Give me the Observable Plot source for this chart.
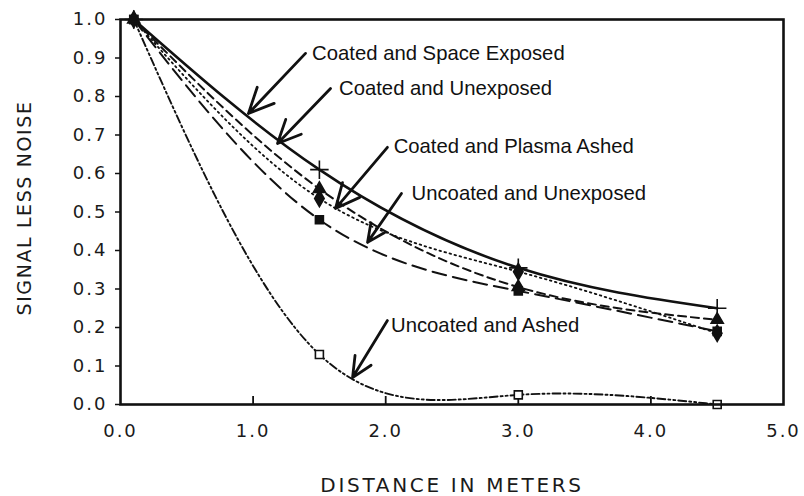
<!DOCTYPE html>
<html>
<head>
<meta charset="utf-8">
<script src="https://cdn.jsdelivr.net/npm/d3@7"></script>
<script src="https://cdn.jsdelivr.net/npm/@observablehq/plot@0.6"></script>
<style>
  html, body { margin: 0; padding: 0; background: #fff; }
  svg { display: block; }
</style>
</head>
<body>
<div id="chart"></div>
<script>
// ---- data ----
const distances = [0.1, 1.5, 3.0, 4.5];
const seriesNames = [
  "Coated and Space Exposed",
  "Coated and Unexposed",
  "Coated and Plasma Ashed",
  "Uncoated and Unexposed",
  "Uncoated and Ashed"
];
const spaceExposed      = [1.0, 0.61, 0.355, 0.25];
const coatedUnexposed   = [1.0, 0.56, 0.305, 0.22];
const plasmaAshed       = [1.0, 0.535, 0.345, 0.185];
const uncoatedUnexposed = [1.0, 0.48, 0.295, 0.19];
const uncoatedAshed     = [1.0, 0.13, 0.025, 0.0];
const seriesValues = [spaceExposed, coatedUnexposed, plasmaAshed, uncoatedUnexposed, uncoatedAshed];

const xTicks = [0, 1, 2, 3, 4, 5];
const xInnerTicks = [1, 2, 3, 4];
const yTicks = [0, 0.1, 0.2, 0.3, 0.4, 0.5, 0.6, 0.7, 0.8, 0.9, 1.0];
const xLabel = "DISTANCE IN METERS";
const yLabel = "SIGNAL LESS NOISE";

// annotation labels (text anchor and arrow, in data units)
const noteLabels = seriesNames;
const noteTextX = [1.445, 1.648, 2.06, 2.195, 2.04];
const noteTextY = [0.912, 0.821, 0.670, 0.548, 0.205];
const noteTailX = [1.395, 1.584, 2.013, 2.119, 2.013];
const noteTailY = [0.912, 0.821, 0.668, 0.548, 0.218];
const noteTipX  = [0.965, 1.184, 1.621, 1.863, 1.75];
const noteTipY  = [0.756, 0.678, 0.509, 0.421, 0.070];

// ---- build tables ----
const rows = [];
seriesNames.forEach((name, i) => {
  distances.forEach((d, j) => rows.push({series: name, x: d, y: seriesValues[i][j]}));
});
const notes = noteLabels.map((t, i) => ({
  text: t, tx: noteTextX[i], ty: noteTextY[i],
  x1: noteTailX[i], y1: noteTailY[i], x2: noteTipX[i], y2: noteTipY[i]
}));

const lineStyle = {
  "Coated and Space Exposed": {dash: null, w: 2.6},
  "Coated and Unexposed": {dash: "8,5", w: 2},
  "Coated and Plasma Ashed": {dash: "1.6,3.6", w: 1.8},
  "Uncoated and Unexposed": {dash: "14,7", w: 2},
  "Uncoated and Ashed": {dash: "8,3,2,3,2,3", w: 1.9}
};
const markStyle = {
  "Uncoated and Ashed": {symbol: "square", fill: "white", r: 4.5},
  "Coated and Space Exposed": {symbol: "plus", fill: "none", r: 6},
  "Coated and Unexposed": {symbol: "triangle", fill: "#111", r: 4.5},
  "Coated and Plasma Ashed": {symbol: "diamond", fill: "#111", r: 5},
  "Uncoated and Unexposed": {symbol: "square", fill: "#111", r: 4.5}
};
const drawOrder = ["Uncoated and Ashed", "Coated and Space Exposed", "Coated and Unexposed", "Coated and Plasma Ashed", "Uncoated and Unexposed"];

const marks = [];
for (const name of drawOrder) {
  const s = lineStyle[name];
  marks.push(Plot.line(rows.filter(r => r.series === name), {
    x: "x", y: "y", curve: "natural", stroke: "#111",
    strokeWidth: s.w, strokeDasharray: s.dash, clip: true
  }));
}
for (const name of drawOrder) {
  const m = markStyle[name];
  marks.push(Plot.dot(rows.filter(r => r.series === name), {
    x: "x", y: "y", symbol: () => m.symbol, r: m.r,
    fill: m.fill, stroke: "#111", strokeWidth: 1.6
  }));
}

const chart = Plot.plot({
  width: 804,
  height: 496,
  marginLeft: 120,
  marginRight: 21,
  marginTop: 19,
  marginBottom: 92,
  x: {domain: [0, 5]},
  y: {domain: [0, 1]},
  symbol: {type: "identity"},
  marks: [
    Plot.axisY({ticks: yTicks, tickFormat: d3.format(".1f"), tickSize: 5, tickPadding: 8,
      fontSize: 18, fontFamily: "DejaVu Sans", stroke: "#111", strokeWidth: 1.5, label: null, color: "#1a1a1a"}),
    Plot.axisX({ticks: xTicks, tickFormat: d3.format(".1f"), tickSize: 0, tickPadding: 20,
      fontSize: 18, fontFamily: "DejaVu Sans", label: null, color: "#1a1a1a"}),
    Plot.ruleX(xInnerTicks, {x: d => d, insetTop: 377, stroke: "#111", strokeWidth: 1.8}),
    ...marks,
    Plot.frame({stroke: "#111", strokeWidth: 2.6}),
    Plot.arrow(notes, {x1: "x1", y1: "y1", x2: "x2", y2: "y2",
      stroke: "#111", strokeWidth: 2.8, headLength: 18, headAngle: 50}),
    Plot.text(notes, {x: "tx", y: "ty", text: "text", textAnchor: "start",
      fontFamily: "Liberation Sans", fontSize: 20.3, fill: "#111"}),
    Plot.text([xLabel], {text: d => d, frameAnchor: "bottom", dy: 81, fontSize: 20,
      textAnchor: "middle", lineAnchor: "middle", fontFamily: "DejaVu Sans", fill: "#1a1a1a"}),
    Plot.text([yLabel], {text: d => d, frameAnchor: "left", rotate: -90, dx: -96, dy: -4, fontSize: 19,
      textAnchor: "middle", lineAnchor: "middle", fontFamily: "DejaVu Sans", fill: "#1a1a1a"})
  ]
});
document.getElementById("chart").append(chart);

// letter spacing for the wide lettering of the original
chart.querySelectorAll('g[aria-label="y-axis tick label"] text, g[aria-label="x-axis tick label"] text')
  .forEach(t => t.setAttribute("letter-spacing", "2"));
chart.querySelectorAll("text").forEach(t => {
  if (t.textContent === xLabel) t.setAttribute("letter-spacing", "2.7");
  if (t.textContent === yLabel) t.setAttribute("letter-spacing", "1.6");
});
</script>
</body>
</html>
